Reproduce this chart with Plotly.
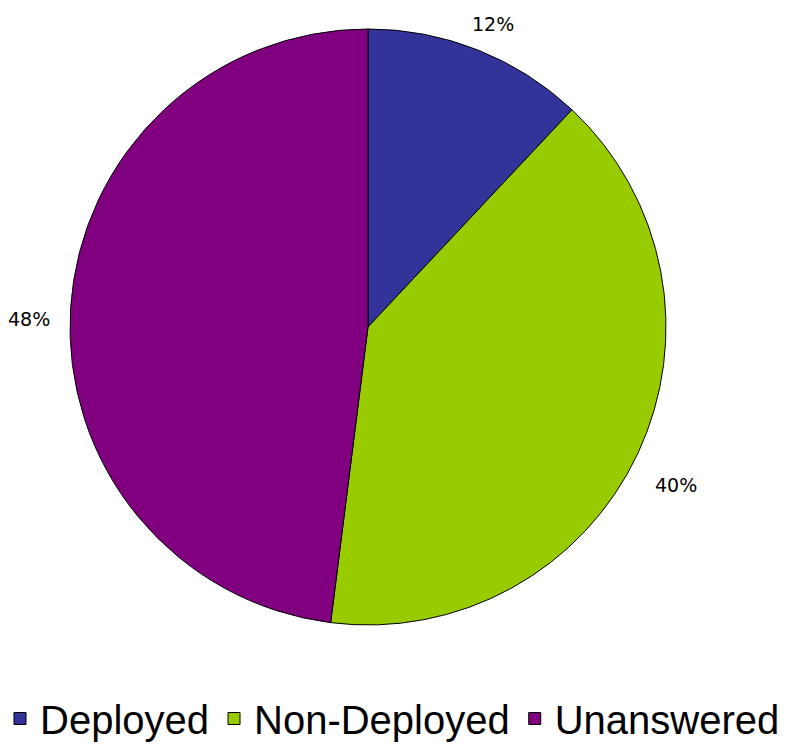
import math
import plotly.graph_objects as go

labels = ["Deployed", "Non-Deployed", "Unanswered"]
values = [12, 40, 48]
colors = ["#333399", "#99CC00", "#800080"]

W, H = 789, 751
dom_x = [0.0887, 0.8441]
dom_y = [0.1678, 0.9614]

fig = go.Figure(go.Pie(
    labels=labels,
    values=values,
    sort=False,
    direction="clockwise",
    rotation=0,
    marker=dict(colors=colors, line=dict(color="#000000", width=1)),
    textinfo="none",
    domain=dict(x=dom_x, y=dom_y),
    hoverinfo="label+percent",
))

# percentage labels placed outside each slice at its mid-angle
total = sum(values)
cx = (dom_x[0] + dom_x[1]) / 2 * W
cy = (dom_y[0] + dom_y[1]) / 2 * H
r = min((dom_x[1] - dom_x[0]) * W, (dom_y[1] - dom_y[0]) * H) / 2
dist = r + 42
cum = 0
for v in values:
    mid = (cum + v / 2) / total * 2 * math.pi
    cum += v
    px = cx + dist * math.sin(mid)
    py = cy + dist * math.cos(mid)
    fig.add_annotation(
        x=px / W, y=py / H, xref="paper", yref="paper",
        text=f"{round(v / total * 100)}%", showarrow=False,
        font=dict(family="DejaVu Sans", size=19, color="#000000"),
        xanchor="center", yanchor="top",
    )

fig.update_layout(
    width=W, height=H,
    margin=dict(l=0, r=0, t=0, b=0),
    paper_bgcolor="white",
    showlegend=True,
    legend=dict(
        orientation="h", x=0, y=0.0, xanchor="left", yanchor="bottom",
        font=dict(family="Liberation Sans", size=40, color="#000000"),
        itemwidth=30,
    ),
)

fig.write_html("out.html")
